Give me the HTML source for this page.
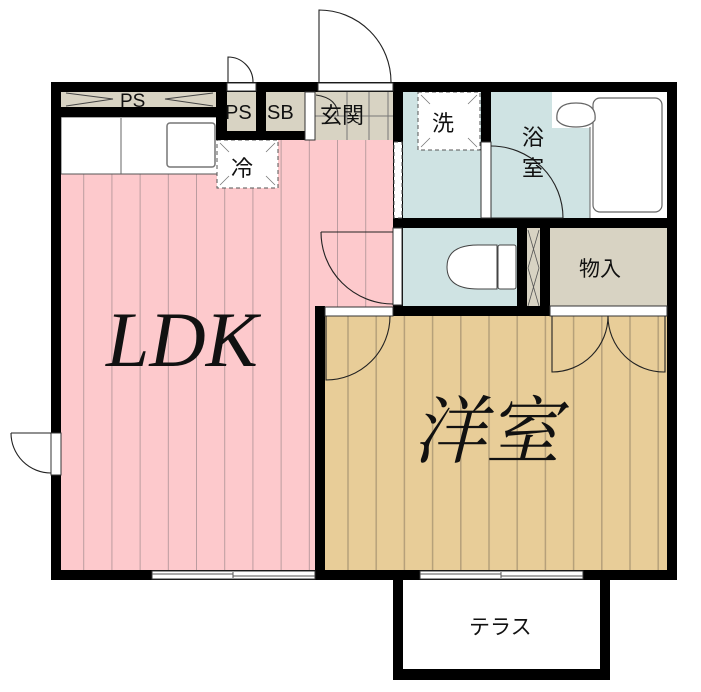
<!DOCTYPE html>
<html><head><meta charset="utf-8"><style>
html,body{margin:0;padding:0;background:#fff;}
svg{display:block;}
</style></head><body>
<svg width="701" height="692" viewBox="0 0 701 692" xmlns="http://www.w3.org/2000/svg" font-family="Liberation Sans, Noto Sans CJK JP, sans-serif">
<defs>
<pattern id="pk" x="56" y="0" width="28.2" height="10" patternUnits="userSpaceOnUse">
<rect width="28.2" height="10" fill="#fdc9cc"/><line x1="28" y1="0" x2="28" y2="10" stroke="#b89a9d" stroke-width="1.5"/></pattern>
<pattern id="wd" x="321" y="0" width="28.2" height="10" patternUnits="userSpaceOnUse">
<rect width="28.2" height="10" fill="#e8cd98"/><line x1="27" y1="0" x2="27" y2="10" stroke="#b5a07a" stroke-width="1.5"/></pattern>
</defs>
<!-- floors -->
<rect x="61" y="117" width="335" height="455" fill="url(#pk)"/>
<rect x="325" y="316" width="345" height="256" fill="url(#wd)"/>
<rect x="402" y="92" width="268" height="130" fill="#cfe3e3"/>
<rect x="402" y="228" width="118" height="80" fill="#cfe3e3"/>
<rect x="527" y="228" width="13" height="80" fill="#d8d3c3"/>
<rect x="550" y="228" width="117" height="78" fill="#d8d3c3"/>
<rect x="61" y="92" width="160" height="16" fill="#d8d3c3"/>
<rect x="226" y="92" width="170" height="48" fill="#d8d3c3"/>
<!-- genkan tiles -->
<g stroke="#777" stroke-width="1"><line x1="347" y1="92" x2="347" y2="140"/><line x1="369" y1="92" x2="369" y2="140"/><line x1="388" y1="92" x2="388" y2="140"/><line x1="315" y1="116" x2="393" y2="116"/></g>
<!-- kitchen counter -->
<rect x="61" y="117" width="158" height="57" fill="#fff" stroke="#555" stroke-width="1"/>
<line x1="121" y1="118" x2="121" y2="174" stroke="#666"/>
<rect x="167" y="123" width="48" height="44" rx="3" fill="#fff" stroke="#777" stroke-width="1.5"/>
<!-- fridge -->
<rect x="217" y="140" width="61" height="48" fill="#fff" stroke="#555" stroke-dasharray="4,3"/>
<!-- laundry -->
<rect x="418" y="92" width="62" height="58" fill="#fff" stroke="#555" stroke-dasharray="4,3"/>
<g stroke="#777" stroke-width="0.8"><line x1="421" y1="95" x2="430" y2="104"/><line x1="477" y1="95" x2="468" y2="104"/><line x1="421" y1="147" x2="430" y2="138"/><line x1="477" y1="147" x2="468" y2="138"/>
<line x1="220" y1="143" x2="229" y2="152"/><line x1="275" y1="143" x2="266" y2="152"/><line x1="220" y1="185" x2="229" y2="176"/><line x1="275" y1="185" x2="266" y2="176"/></g>
<!-- bath -->
<rect x="552" y="92" width="48" height="36" fill="#fff"/>
<rect x="590" y="92" width="77" height="126" fill="#fff"/>
<rect x="593" y="98" width="69" height="114" rx="7" fill="#fff" stroke="#666" stroke-width="1.2"/>
<line x1="590" y1="127" x2="590" y2="218" stroke="#666"/>
<path d="M557 120 Q555 103 576 103 Q597 103 595 120 Q590 127 576 127 Q562 127 557 120Z" fill="#fff" stroke="#666" stroke-width="1.2"/>
<!-- toilet -->
<path d="M497 245 L478 245 Q447 245 447 267 Q447 289 478 289 L497 289 Z" fill="#fff" stroke="#444" stroke-width="1"/>
<rect x="498" y="245" width="18" height="44" rx="2" fill="#fff" stroke="#444" stroke-width="1"/>
<!-- small closet X -->
<g stroke="#555" stroke-width="0.8"><line x1="528" y1="230" x2="539" y2="268"/><line x1="539" y1="230" x2="528" y2="268"/><line x1="528" y1="268" x2="539" y2="306"/><line x1="539" y1="268" x2="528" y2="306"/></g>
<!-- walls -->
<g fill="#000">
<rect x="51" y="82" width="626" height="10"/>
<rect x="51" y="82" width="10" height="498"/>
<rect x="667" y="82" width="10" height="234"/>
<rect x="667" y="306" width="10" height="274"/>
<rect x="51" y="570" width="626" height="10"/>
<rect x="51" y="107" width="170" height="10"/>
<rect x="216" y="82" width="11" height="58"/>
<rect x="256" y="82" width="10" height="58"/>
<rect x="216" y="131" width="99" height="9"/>
<rect x="393" y="82" width="10" height="234"/>
<rect x="481" y="82" width="10" height="60"/>
<rect x="393" y="218" width="284" height="10"/>
<rect x="517" y="228" width="10" height="88"/>
<rect x="540" y="228" width="10" height="88"/>
<rect x="393" y="306" width="157" height="10"/>
<rect x="315" y="306" width="10" height="274"/>
<rect x="393" y="570" width="217" height="10"/>
<rect x="393" y="570" width="10" height="110"/>
<rect x="600" y="570" width="10" height="110"/>
<rect x="393" y="669" width="217" height="11"/>
</g>
<!-- white openings -->
<g fill="#fff" stroke="#333" stroke-width="1">
<rect x="227" y="83" width="29" height="8"/>
<rect x="318" y="83" width="75" height="8"/>
<rect x="305" y="92" width="10" height="48"/>
<rect x="481" y="142" width="10" height="76"/>
<rect x="393" y="228" width="9" height="77"/>
<rect x="325" y="307" width="68" height="9"/>
<rect x="550" y="306" width="117" height="10"/>
<rect x="51" y="433" width="10" height="42"/>
<rect x="152" y="571" width="163" height="8"/>
<rect x="420" y="571" width="163" height="8"/>
</g>
<rect x="394" y="142" width="8" height="76" fill="#fff" stroke="#555" stroke-dasharray="4,3"/>
<g stroke="#555" stroke-width="1"><line x1="152" y1="574" x2="233" y2="574"/><line x1="233" y1="576" x2="315" y2="576"/><line x1="233" y1="572" x2="233" y2="578"/>
<line x1="420" y1="574" x2="501" y2="574"/><line x1="501" y1="576" x2="583" y2="576"/><line x1="501" y1="572" x2="501" y2="578"/></g>
<!-- doors -->
<g fill="none" stroke="#222" stroke-width="1.1">
<path d="M319 82 L319 10 A72 72 0 0 1 391 82"/>
<path d="M228 82 L228 57 A25 25 0 0 1 253 82"/>
<path d="M321 232 L393 232 M321 232 A72 72 0 0 0 393 304"/>
<path d="M326 316 L326 380 A64 64 0 0 0 390 316"/>
<path d="M491 146 A72 72 0 0 1 563 218 L491 218"/>
<path d="M552 316 L552 372 A56 56 0 0 0 608 316 A56 56 0 0 0 665 372 L665 316"/>
<path d="M11 433 L51 433 M11 433 A40 40 0 0 0 51 473"/>
<path d="M316 95 Q338 98 338 116"/>
</g>
<!-- PS arrows -->
<g stroke="#444" stroke-width="1" fill="none"><path d="M66 93 L113 99 L66 106"/><path d="M213 93 L165 99 L213 106"/></g>
<!-- labels -->
<g font-size="20" fill="#111">
<text x="120" y="107" font-size="19">PS</text>
<text x="225" y="119">PS</text>
<text x="267" y="119">SB</text>
<text x="320" y="123" font-size="22">玄関</text>
<text x="231" y="176" font-size="22">冷</text>
<text x="432" y="131" font-size="22">洗</text>
<text x="522" y="145" font-size="22">浴</text>
<text x="522" y="176" font-size="22">室</text>
<text x="579" y="276" font-size="21">物入</text>
<text x="469" y="634" font-size="21">テラス</text>
</g>
<text x="106" y="366" style="font-family:'Liberation Serif',serif;font-style:italic;font-size:78px" fill="#111">LDK</text>
<text x="412" y="457" style="font-family:'Liberation Serif','Noto Serif CJK SC',serif;font-style:italic;font-size:74px" fill="#111">洋室</text>
</svg>
</body></html>
